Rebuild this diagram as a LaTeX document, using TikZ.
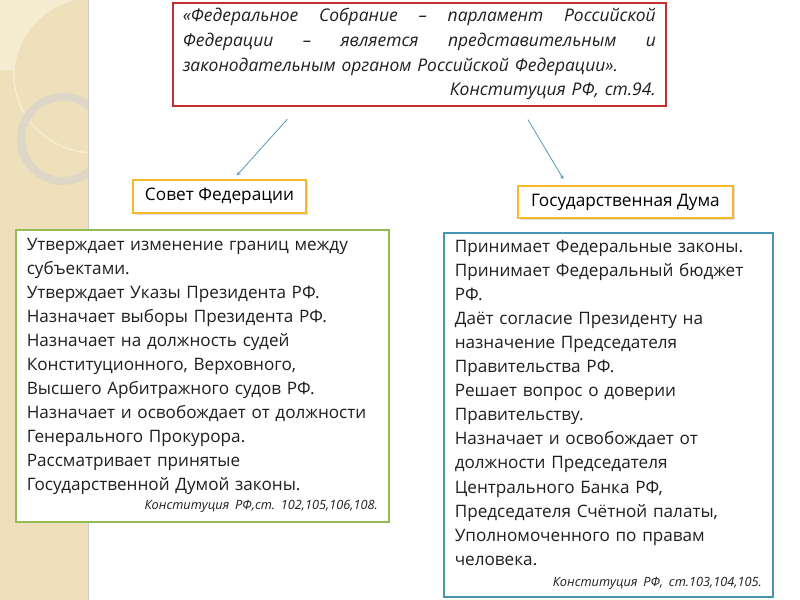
\documentclass[tikz,border=0pt]{standalone}
\usepackage{fontspec}
\setmainfont{Open Sans}
\usetikzlibrary{calc,shadows}

\definecolor{stripbg}{RGB}{238,224,186}
\definecolor{stripfg}{RGB}{245,236,210}
\definecolor{ringcol}{RGB}{222,214,198}
\definecolor{quotered}{RGB}{196,48,48}
\definecolor{titleorange}{RGB}{247,184,40}
\definecolor{sfgreen}{RGB}{150,186,84}
\definecolor{gdblue}{RGB}{70,148,176}
\definecolor{linkblue}{RGB}{84,152,186}

\newcommand{\citeline}[1]{\hfill\hbox{\fontsize{12.8}{14}\selectfont\itshape\frenchspacing #1}}

\begin{document}
\begin{tikzpicture}[x=1bp,y=-1bp,
    quotebox/.style={draw=quotered, line width=1.6bp, fill=white, anchor=north west,
      inner xsep=10bp, drop shadow={shadow xshift=1.5bp, shadow yshift=-1.5bp, opacity=0.25}},
    titlebox/.style={draw=titleorange, line width=1.6bp, fill=white,
      font=\fontsize{17.3}{20}\selectfont, drop shadow={shadow xshift=1.5bp, shadow yshift=-1.5bp, opacity=0.25}},
    bodybox/.style={line width=1.6bp, fill=white, anchor=north west, align=left,
      inner xsep=11bp, inner ysep=2bp, font=\fontsize{17.2}{24.1}\selectfont\frenchspacing, text=black!88,
      drop shadow={shadow xshift=1.5bp, shadow yshift=-1.5bp, opacity=0.25}},
    link/.style={->, linkblue, line width=0.8bp, >=stealth}]
    \useasboundingbox (0,0) rectangle (800,600);

    % decorative strip on the left
    \begin{scope}
        \clip (0,0) rectangle (88,600);
        \fill[stripbg] (0,0) rectangle (88,600);
        \begin{scope}
            \clip (0,0) rectangle (70,70);
            \fill[stripfg, even odd rule] (0,0) rectangle (70,70) (95,75) ellipse (81 and 78);
        \end{scope}
        \draw[stripfg, line width=1.5bp] (95,75) ellipse (81 and 78);
        \draw[ringcol, line width=8bp] (63,139) circle (42);
    \end{scope}
    \draw[black!20, line width=1.5bp] (88.5,0) -- (88.5,600);

    \node[quotebox, text width=473bp, minimum width=493bp, minimum height=103bp, text=black!88,
      font=\fontsize{17.5}{24.8}\selectfont\itshape, align=left] (quote) at (172,2)
      {«Федеральное\hfill Собрание\hfill –\hfill парламент\hfill Российской\\
       Федерации\hfill –\hfill является\hfill представительным\hfill и\\
       законодательным органом Российской Федерации».\\
       \hfill Конституция РФ, ст.94.};

    \node[titlebox, minimum width=173bp, minimum height=33bp] (sovet) at (219.5,196.5) {Совет Федерации};
    \node[titlebox, minimum width=215bp, minimum height=32bp] (duma) at (625.5,202) {Государственная Дума};

    \node[bodybox, draw=sfgreen, text width=351bp, minimum width=373bp, minimum height=292bp] (sfbody) at (15,229)
      {Утверждает изменение границ между\\
       субъектами.\\
       Утверждает Указы Президента РФ.\\
       Назначает выборы Президента РФ.\\
       Назначает на должность судей\\
       Конституционного, Верховного,\\
       Высшего Арбитражного судов РФ.\\
       Назначает и освобождает от должности\\
       Генерального Прокурора.\\
       Рассматривает принятые\\
       Государственной Думой законы.\\[-5bp]
       \citeline{Конституция РФ,ст. 102,105,106,108.}};

    \node[bodybox, draw=gdblue, text width=307bp, minimum width=329bp, minimum height=364bp] (gdbody) at (443,232)
      {Принимает Федеральные законы.\\
       Принимает Федеральный бюджет\\
       РФ.\\
       Даёт согласие Президенту на\\
       назначение Председателя\\
       Правительства РФ.\\
       Решает вопрос о доверии\\
       Правительству.\\
       Назначает и освобождает от\\
       должности Председателя\\
       Центрального Банка РФ,\\
       Председателя Счётной палаты,\\
       Уполномоченного по правам\\
       человека.\\[-3bp]
       \citeline{Конституция РФ, ст.103,104,105.}};

    \draw[link, shorten <=17bp, shorten >=5bp] ($(quote.south west)!0.256!(quote.south east)$)
      -- ($(sovet.north west)!0.58!(sovet.north east)$);
    \draw[link, shorten <=15bp, shorten >=7bp] ($(quote.south west)!0.704!(quote.south east)$)
      -- ($(duma.north west)!0.23!(duma.north east)$);
\end{tikzpicture}
\end{document}
